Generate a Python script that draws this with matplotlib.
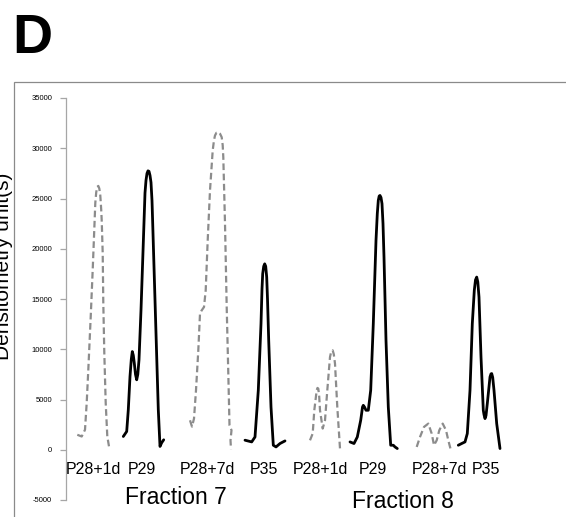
import matplotlib
matplotlib.use("Agg")
import matplotlib.pyplot as plt
from matplotlib.patches import Rectangle

# ---- data (scan position along lane, densitometry units) ----
f7_p28_1d_x = [11.3, 15.7, 19.0, 20.7, 22.3, 24.7, 26.7, 28.0, 29.3, 30.2, 31.2, 32.3, 33.3, 34.3, 35.2, 35.7, 36.7, 37.3, 38.3, 39.7, 41.3, 43.0]
f7_p28_1d_y = [1490, 1320, 1990, 4670, 7950, 13200, 17900, 21200, 24550, 25600, 26150, 26250, 26000, 25300, 23900, 22860, 19580, 14610, 9640, 4670, 1320, 330]

f7_p29_x = [57.3, 60.7, 62.3, 64.0, 65.3, 66.3, 67.3, 68.3, 69.5, 70.7, 71.8, 73.0, 75.0, 77.3, 79.0, 80.0, 81.0, 82.0, 83.0, 84.0, 85.0, 86.0, 86.3, 88.3, 90.3, 92.3, 94.0, 95.7, 97.7]
f7_p29_y = [1320, 1820, 3980, 7290, 9000, 9770, 9400, 8620, 7500, 6960, 7500, 8950, 13900, 20580, 25550, 26800, 27500, 27750, 27700, 27300, 26600, 24800, 23860, 17230, 10610, 3980, 330, 700, 990]

f7_p28_7d_x = [124.0, 126.0, 128.0, 130.0, 132.3, 134.0, 135.7, 138.0, 139.7, 141.7, 144.0, 146.7, 148.0, 149.0, 150.5, 152.3, 154.0, 155.7, 156.7, 157.3, 159.0, 160.7, 162.3, 163.5, 165.5, 164.5, 165.0]
f7_p28_7d_y = [2930, 2300, 3100, 5920, 9890, 13540, 13870, 14200, 15860, 20830, 25800, 29780, 30800, 31270, 31550, 31600, 31450, 31100, 30300, 29110, 22520, 14200, 7580, 2440, 1940, 940, 50]

f7_p35_x = [179.0, 185.7, 189.0, 192.3, 195.0, 196.0, 196.7, 197.7, 198.7, 199.7, 200.7, 201.5, 202.7, 205.0, 207.3, 210.0, 214.0, 219.0]
f7_p35_y = [950, 780, 1270, 5920, 12540, 16000, 17510, 18250, 18500, 18250, 17180, 15000, 10890, 4260, 450, 280, 620, 880]

f8_p28_1d_x = [244.0, 246.7, 248.3, 250.7, 251.5, 252.3, 253.2, 254.0, 256.7, 259.0, 261.3, 264.0, 265.3, 266.7, 267.8, 269.0, 271.3, 274.0, 275.7]
f8_p28_1d_y = [940, 1610, 3930, 5920, 6150, 6080, 5300, 3930, 2110, 2930, 5920, 9230, 9800, 9890, 9500, 8570, 4250, 120, 280]

f8_p29_x = [284.0, 288.0, 291.3, 294.7, 295.5, 296.5, 297.3, 298.5, 300.0, 302.3, 304.7, 307.3, 310.0, 311.3, 312.3, 313.2, 314.0, 315.0, 316.0, 317.0, 318.0, 320.0, 322.3, 324.7, 327.3, 329.0, 331.3]
f8_p29_y = [780, 620, 1270, 2930, 3500, 4250, 4420, 4250, 3930, 3930, 5920, 12540, 20830, 23500, 24810, 25250, 25300, 25100, 24480, 22500, 19170, 10890, 4250, 450, 450, 280, 120]

f8_p28_7d_x = [350.7, 354.0, 358.0, 362.3, 365.7, 368.0, 370.7, 373.3, 376.7, 380.0, 382.3, 384.7]
f8_p28_7d_y = [280, 1270, 2270, 2600, 1610, 450, 940, 1940, 2600, 1940, 940, 20]

f8_p35_x = [392.3, 395.7, 399.0, 401.3, 404.0, 406.3, 408.3, 409.5, 410.7, 411.8, 413.0, 415.0, 417.3, 418.0, 419.0, 420.0, 421.3, 424.0, 425.0, 425.7, 426.7, 428.0, 430.7, 434.0]
f8_p35_y = [450, 620, 780, 1610, 5920, 12540, 15860, 16900, 17180, 16700, 15190, 9230, 3930, 3500, 3100, 3400, 4590, 7240, 7550, 7580, 7200, 5920, 2600, 120]

lane_labels = ["P28+1d", "P29", "P28+7d", "P35", "P28+1d", "P29", "P28+7d", "P35"]
fraction_labels = ["Fraction 7", "Fraction 8"]
y_ticks = [-5000, 0, 5000, 10000, 15000, 20000, 25000, 30000, 35000]

# ---- layout ----
lane_label_x = [27.8, 76.0, 141.0, 198.0, 254.0, 306.5, 373.0, 420.0]
fraction_label_x = [109.5, 337.0]
fraction_label_y = [-4720, -5120]

W, H = 566, 517
fig = plt.figure(figsize=(W / 100, H / 100), dpi=100)
plt.rcParams['font.family'] = ['Liberation Sans', 'DejaVu Sans']

# panel border
fig.patches.append(Rectangle((14 / W, -0.05), 1.2, (H - 82) / H + 0.05,
                             transform=fig.transFigure, fill=False,
                             edgecolor='#8a8a8a', linewidth=0.9))

ax = fig.add_axes([66 / W, (H - 500) / H, 500 / W, 402 / H])
ax.set_xlim(0, 500)
ax.set_ylim(-5000, 35000)
ax.patch.set_alpha(0)
for s in ['top', 'right', 'bottom']:
    ax.spines[s].set_visible(False)
ax.spines['left'].set_color('#a6a6a6')
ax.spines['left'].set_linewidth(0.9)
ax.set_yticks(y_ticks)
ax.set_yticklabels([str(v) for v in y_ticks])
ax.tick_params(axis='y', direction='out', length=4, width=0.9, color='#a6a6a6',
               labelsize=5.5, pad=6)
ax.set_xticks([])

dashed = dict(color='#8c8c8c', linewidth=1.6, linestyle=(0, (3, 1.6)),
              dash_capstyle='butt', dash_joinstyle='round')
solid = dict(color='black', linewidth=2.0, solid_joinstyle='round', solid_capstyle='round')

ax.plot(f7_p28_1d_x, f7_p28_1d_y, **dashed)
ax.plot(f7_p29_x, f7_p29_y, **solid)
ax.plot(f7_p28_7d_x, f7_p28_7d_y, **dashed)
ax.plot(f7_p35_x, f7_p35_y, **solid)
ax.plot(f8_p28_1d_x, f8_p28_1d_y, **dashed)
ax.plot(f8_p29_x, f8_p29_y, **solid)
ax.plot(f8_p28_7d_x, f8_p28_7d_y, **dashed)
ax.plot(f8_p35_x, f8_p35_y, **solid)

for lbl, x in zip(lane_labels, lane_label_x):
    ax.text(x, -1950, lbl, ha='center', va='center', fontsize=11.5, color='black')
for lbl, x, y in zip(fraction_labels, fraction_label_x, fraction_label_y):
    ax.text(x, y, lbl, ha='center', va='center', fontsize=16.5, color='black', clip_on=False)

fig.text(13 / W, 1 - 266 / H, "Densitometry unit(s)", rotation=90,
         ha='right', va='center', fontsize=15)
fig.text(12 / W, 1 - 53 / H, "D", fontsize=40, fontweight='bold',
         ha='left', va='baseline')

fig.savefig("out.png", dpi=100)
